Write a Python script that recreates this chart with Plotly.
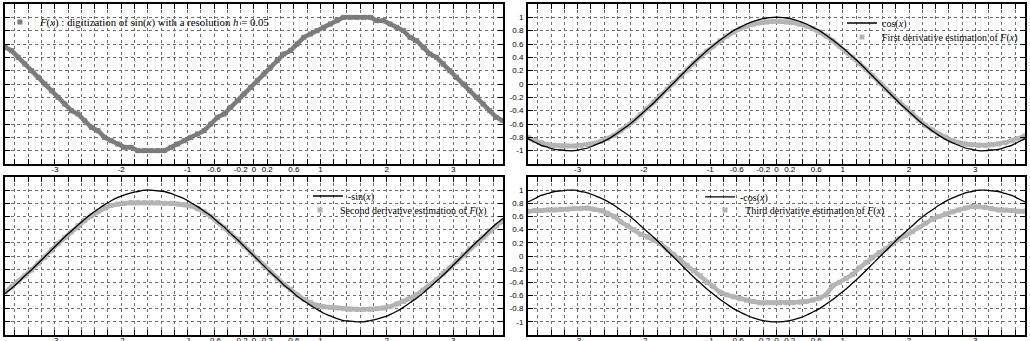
import plotly.graph_objects as go

# ---------------- data ----------------
x = [-3.75, -3.65, -3.55, -3.45, -3.35, -3.25, -3.15, -3.05, -2.95, -2.85,
     -2.75, -2.65, -2.55, -2.45, -2.35, -2.25, -2.15, -2.05, -1.95, -1.85,
     -1.75, -1.65, -1.55, -1.45, -1.35, -1.25, -1.15, -1.05, -0.95, -0.85,
     -0.75, -0.65, -0.55, -0.45, -0.35, -0.25, -0.15, -0.05, 0.05, 0.15,
     0.25, 0.35, 0.45, 0.55, 0.65, 0.75, 0.85, 0.95, 1.05, 1.15,
     1.25, 1.35, 1.45, 1.55, 1.65, 1.75, 1.85, 1.95, 2.05, 2.15,
     2.25, 2.35, 2.45, 2.55, 2.65, 2.75, 2.85, 2.95, 3.05, 3.15,
     3.25, 3.35, 3.45, 3.55, 3.65, 3.75]

# F(x): digitized sin(x), resolution 0.05
F_digit = [0.55, 0.50, 0.40, 0.30, 0.20, 0.10, 0.00, -0.10, -0.20, -0.30,
           -0.40, -0.45, -0.55, -0.65, -0.70, -0.80, -0.85, -0.90, -0.95, -0.95,
           -1.00, -1.00, -1.00, -1.00, -1.00, -0.95, -0.90, -0.85, -0.80, -0.75,
           -0.70, -0.60, -0.50, -0.45, -0.35, -0.25, -0.15, -0.05, 0.05, 0.15,
           0.25, 0.35, 0.45, 0.50, 0.60, 0.70, 0.75, 0.80, 0.85, 0.90,
           0.95, 1.00, 1.00, 1.00, 1.00, 1.00, 0.95, 0.95, 0.90, 0.85,
           0.80, 0.70, 0.65, 0.55, 0.45, 0.40, 0.30, 0.20, 0.10, 0.00,
           -0.10, -0.20, -0.30, -0.40, -0.50, -0.55]

cos_ref = [-0.82, -0.87, -0.92, -0.95, -0.98, -0.99, -1.00, -1.00, -0.98, -0.96,
           -0.92, -0.88, -0.83, -0.77, -0.70, -0.63, -0.55, -0.46, -0.37, -0.28,
           -0.18, -0.08, 0.02, 0.12, 0.22, 0.32, 0.41, 0.50, 0.58, 0.66,
           0.73, 0.80, 0.85, 0.90, 0.94, 0.97, 0.99, 1.00, 1.00, 0.99,
           0.97, 0.94, 0.90, 0.85, 0.80, 0.73, 0.66, 0.58, 0.50, 0.41,
           0.32, 0.22, 0.12, 0.02, -0.08, -0.18, -0.28, -0.37, -0.46, -0.55,
           -0.63, -0.70, -0.77, -0.83, -0.88, -0.92, -0.96, -0.98, -1.00, -1.00,
           -0.99, -0.98, -0.95, -0.92, -0.87, -0.82]

d1_est = [-0.80, -0.85, -0.88, -0.91, -0.92, -0.93, -0.93, -0.93, -0.92, -0.91,
          -0.89, -0.86, -0.82, -0.77, -0.70, -0.63, -0.55, -0.46, -0.37, -0.27,
          -0.18, -0.08, 0.02, 0.12, 0.21, 0.31, 0.41, 0.49, 0.57, 0.65,
          0.72, 0.78, 0.83, 0.87, 0.90, 0.92, 0.93, 0.94, 0.94, 0.93,
          0.92, 0.90, 0.87, 0.83, 0.78, 0.72, 0.65, 0.57, 0.49, 0.40,
          0.31, 0.22, 0.12, 0.02, -0.08, -0.18, -0.27, -0.36, -0.45, -0.54,
          -0.62, -0.69, -0.75, -0.80, -0.85, -0.88, -0.90, -0.91, -0.92, -0.92,
          -0.91, -0.90, -0.88, -0.85, -0.82, -0.78]

msin_ref = [-0.57, -0.49, -0.40, -0.30, -0.21, -0.11, -0.01, 0.09, 0.19, 0.29,
            0.38, 0.47, 0.56, 0.64, 0.71, 0.78, 0.84, 0.89, 0.93, 0.96,
            0.98, 1.00, 1.00, 0.99, 0.98, 0.95, 0.91, 0.87, 0.81, 0.75,
            0.68, 0.61, 0.52, 0.44, 0.34, 0.25, 0.15, 0.05, -0.05, -0.15,
            -0.25, -0.34, -0.44, -0.52, -0.61, -0.68, -0.75, -0.81, -0.87, -0.91,
            -0.95, -0.98, -0.99, -1.00, -1.00, -0.98, -0.96, -0.93, -0.89, -0.84,
            -0.78, -0.71, -0.64, -0.56, -0.47, -0.38, -0.29, -0.19, -0.09, 0.01,
            0.11, 0.21, 0.30, 0.40, 0.49, 0.57]

d2_est = [-0.55, -0.47, -0.39, -0.30, -0.21, -0.11, -0.02, 0.09, 0.19, 0.28,
          0.37, 0.46, 0.54, 0.61, 0.68, 0.73, 0.77, 0.79, 0.80, 0.81,
          0.81, 0.81, 0.81, 0.81, 0.80, 0.80, 0.79, 0.78, 0.76, 0.72,
          0.67, 0.60, 0.52, 0.43, 0.34, 0.25, 0.15, 0.05, -0.05, -0.15,
          -0.25, -0.34, -0.43, -0.51, -0.59, -0.66, -0.71, -0.75, -0.77, -0.78,
          -0.79, -0.80, -0.81, -0.81, -0.81, -0.81, -0.80, -0.79, -0.77, -0.73,
          -0.69, -0.64, -0.59, -0.52, -0.45, -0.36, -0.27, -0.18, -0.08, 0.02,
          0.11, 0.20, 0.29, 0.38, 0.46, 0.53]

mcos_ref = [0.82, 0.87, 0.92, 0.95, 0.98, 0.99, 1.00, 1.00, 0.98, 0.96,
            0.92, 0.88, 0.83, 0.77, 0.70, 0.63, 0.55, 0.46, 0.37, 0.28,
            0.18, 0.08, -0.02, -0.12, -0.22, -0.32, -0.41, -0.50, -0.58, -0.66,
            -0.73, -0.80, -0.85, -0.90, -0.94, -0.97, -0.99, -1.00, -1.00, -0.99,
            -0.97, -0.94, -0.90, -0.85, -0.80, -0.73, -0.66, -0.58, -0.50, -0.41,
            -0.32, -0.22, -0.12, -0.02, 0.08, 0.18, 0.28, 0.37, 0.46, 0.55,
            0.63, 0.70, 0.77, 0.83, 0.88, 0.92, 0.96, 0.98, 1.00, 1.00,
            0.99, 0.98, 0.95, 0.92, 0.87, 0.82]

d3_est = [0.68, 0.69, 0.69, 0.70, 0.70, 0.71, 0.71, 0.72, 0.72, 0.73,
          0.71, 0.69, 0.65, 0.60, 0.52, 0.46, 0.40, 0.33, 0.29, 0.24,
          0.19, 0.10, 0.02, -0.06, -0.14, -0.22, -0.30, -0.40, -0.46, -0.55,
          -0.59, -0.62, -0.65, -0.67, -0.69, -0.71, -0.71, -0.71, -0.71, -0.71,
          -0.71, -0.70, -0.69, -0.67, -0.64, -0.59, -0.45, -0.40, -0.34, -0.28,
          -0.18, -0.10, -0.02, 0.05, 0.11, 0.19, 0.26, 0.31, 0.37, 0.43,
          0.50, 0.56, 0.60, 0.64, 0.67, 0.70, 0.73, 0.75, 0.75, 0.74,
          0.72, 0.70, 0.70, 0.69, 0.68, 0.68]

x_tick_vals = [-3, -2, -1, -0.6, -0.2, 0, 0.2, 0.6, 1, 2, 3]
x_tick_text = ["-3", "-2", "-1", "-0.6", "-0.2", "0", "0.2", "0.6", "1", "2", "3"]
y_tick_vals = [1, 0.8, 0.6, 0.4, 0.2, 0, -0.2, -0.4, -0.6, -0.8, -1]
y_tick_text = ["1", "0.8", "0.6", "0.4", "0.2", "0", "-0.2", "-0.4", "-0.6", "-0.8", "-1"]

labels = {
    "F": "<i>F</i>(<i>x</i>) : digitization of sin(<i>x</i>) with a resolution <i>h</i> = 0.05",
    "cos": "cos(<i>x</i>)",
    "d1": "First derivative estimation of <i>F</i>(<i>x</i>)",
    "msin": "-sin(<i>x</i>)",
    "d2": "Second derivative estimation of <i>F</i>(<i>x</i>)",
    "mcos": "-cos(<i>x</i>)",
    "d3": "Third derivative estimation of <i>F</i>(<i>x</i>)",
}

# ---------------- styles ----------------
DARK = "#7c7c7c"
LIGHT = "#b4b4b4"
GRID = "#6e6e6e"
DASH = "3px,3px"

fig = go.Figure()
band_traces = []
curve_traces = []


def band(xa, ya, yv, color, name, legend):
    # thick line under square markers -> continuous band of points
    band_traces.append(go.Scatter(x=x, y=yv, xaxis=xa, yaxis=ya, mode="lines",
                                  line=dict(color=color, width=4.5), showlegend=False,
                                  hoverinfo="skip"))
    band_traces.append(go.Scatter(x=x, y=yv, xaxis=xa, yaxis=ya, mode="markers",
                                  marker=dict(symbol="square", size=5, color=color),
                                  name=name, legend=legend))


def curve(xa, ya, yv, name, legend):
    curve_traces.append(go.Scatter(x=x, y=yv, xaxis=xa, yaxis=ya, mode="lines",
                                   line=dict(color="black", width=1.3, shape="spline"),
                                   name=name, legend=legend))


band("x", "y", F_digit, DARK, labels["F"], "legend")
curve("x2", "y2", cos_ref, labels["cos"], "legend2")
band("x2", "y2", d1_est, LIGHT, labels["d1"], "legend3")
curve("x3", "y3", msin_ref, labels["msin"], "legend4")
band("x3", "y3", d2_est, LIGHT, labels["d2"], "legend5")
curve("x4", "y4", mcos_ref, labels["mcos"], "legend6")
band("x4", "y4", d3_est, LIGHT, labels["d3"], "legend7")

for t in band_traces + curve_traces:
    fig.add_trace(t)

tick_font = dict(family="Liberation Sans, Arial, sans-serif", size=8, color="black")


def xaxis_cfg(domain, anchor):
    return dict(domain=domain, anchor=anchor, range=[-3.75, 3.75], automargin=False,
                tickmode="array", tickvals=x_tick_vals, ticktext=x_tick_text,
                ticks="inside", ticklen=5, tickwidth=1, tickcolor="black",
                showline=True, linewidth=2, linecolor="black", mirror="allticks",
                showgrid=True, gridcolor=GRID, griddash=DASH, gridwidth=1,
                zeroline=False, tickfont=tick_font, ticklabelstandoff=-4,
                minor=dict(tick0=0, dtick=0.2, ticks="inside", ticklen=5,
                           tickcolor="black", tickwidth=1, showgrid=True,
                           gridcolor=GRID, griddash=DASH, gridwidth=1))


def yaxis_cfg(domain, anchor, labels_on=True):
    return dict(domain=domain, anchor=anchor, range=[-1.2, 1.2], automargin=False,
                tickmode="array", tickvals=y_tick_vals, ticktext=y_tick_text,
                showticklabels=labels_on,
                ticks="inside", ticklen=5, tickwidth=1, tickcolor="black",
                showline=True, linewidth=2, linecolor="black", mirror="allticks",
                showgrid=True, gridcolor=GRID, griddash=DASH, gridwidth=1,
                zeroline=False, tickfont=tick_font, ticklabelstandoff=1,
                minor=dict(tick0=0, dtick=0.2, ticks="inside", ticklen=5,
                           tickcolor="black", tickwidth=1, showgrid=False))


XL, XR = [0, 0.4882], [0.5127, 1]
YT, YB = [0.5166, 1], [0, 0.4773]


def leg(xp, yp, size=10):
    return dict(x=xp, y=yp, xanchor="left", yanchor="middle",
                bgcolor="rgba(0,0,0,0)", borderwidth=0,
                font=dict(family="Liberation Serif, Times New Roman, serif",
                          size=size, color="black"),
                itemwidth=30, tracegroupgap=0)


fig.update_layout(
    width=1030, height=341,
    margin=dict(l=5, r=5, t=4, b=6, autoexpand=False),
    paper_bgcolor="white", plot_bgcolor="white",
    xaxis=xaxis_cfg(XL, "y"), yaxis=yaxis_cfg(YT, "x", False),
    xaxis2=xaxis_cfg(XR, "y2"), yaxis2=yaxis_cfg(YT, "x2"),
    xaxis3=xaxis_cfg(XL, "y3"), yaxis3=yaxis_cfg(YB, "x3", False),
    xaxis4=xaxis_cfg(XR, "y4"), yaxis4=yaxis_cfg(YB, "x4"),
    legend=leg(-0.005, 0.9456, 10.8),
    legend2=leg(0.8206, 0.9426),
    legend3=leg(0.8206, 0.9003),
    legend4=leg(0.297, 0.420),
    legend5=leg(0.2892, 0.3776),
    legend6=leg(0.6814, 0.417),
    legend7=leg(0.6863, 0.3776),
    showlegend=True,
)

fig.write_html("out.html")
